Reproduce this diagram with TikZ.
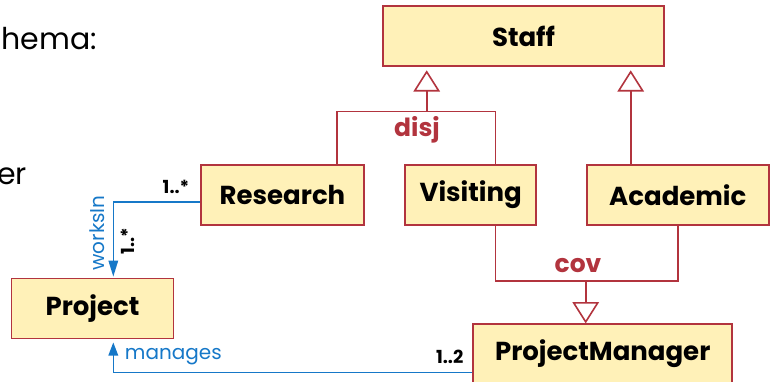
\documentclass[tikz,border=0pt]{standalone}
\usepackage{fontspec}
\setmainfont{Poppins}
\definecolor{boxfill}{RGB}{255,241,184}
\definecolor{boxline}{RGB}{178,52,62}
\definecolor{assocblue}{RGB}{22,120,200}
\tikzset{
  cls/.style={draw=boxline, fill=boxfill, line width=1.6pt, minimum height=60pt, inner sep=0pt, font=\fontsize{26}{30}\selectfont\bfseries},
  genline/.style={draw=boxline, line width=1.6pt},
  genhead/.style={draw=boxline, fill=white, line width=1.6pt, line join=miter},
  assocline/.style={draw=assocblue, line width=1.6pt},
  assochead/.style={fill=assocblue},
  gsetlbl/.style={text=boxline, font=\fontsize{25}{28}\selectfont\bfseries, inner sep=0pt},
  multlbl/.style={text=black, font=\fontsize{18}{20}\selectfont\bfseries, inner sep=0pt},
  rolelbl/.style={text=assocblue, font=\fontsize{20}{22}\selectfont, inner sep=0pt},
  bgtext/.style={text=black, font=\fontsize{30}{34}\selectfont, inner sep=0pt, anchor=base east}
}
\begin{document}
\begin{tikzpicture}[x=1pt, y=-1pt]
\useasboundingbox (0,0) rectangle (771,382);
% classes
\node[cls, minimum width=281pt] (Staff) at (523.5,36) {Staff};
\node[cls, minimum width=163pt] (Research) at (282.5,195) {Research};
\node[cls, minimum width=131pt] (Visiting) at (470.7,195) {Visiting};
\node[cls, minimum width=182pt] (Academic) at (677.8,195) {Academic};
\node[cls, minimum width=162pt] (Project) at (92.5,308.3) {Project};
\node[cls, minimum width=259pt] (PM) at (602.7,354) {ProjectManager};
% background text fragments
\node[bgtext] (t1) at (97,50) {hema:};
\node[bgtext] (t2) at (27,185) {er};
% coordinates
\coordinate (dj) at (426.7,111.7);
\coordinate (dL) at (336.7,111.7);
\coordinate (dR) at (495.3,111.7);
\coordinate (ax) at (630.7,0);
\coordinate (cj) at (585.7,281);
\coordinate (cL) at (495.3,281);
\coordinate (wy) at (0,202.3);
\coordinate (px) at (113.3,0);
\coordinate (my) at (0,372.3);
\coordinate (tipL) at (Staff.south -| dj);
\coordinate (tipR) at (Staff.south -| ax);
\coordinate (tipPM) at (PM.north -| cj);
\coordinate (tipW) at (Project.north -| px);
\coordinate (tipM) at (Project.south -| px);
% disjoint generalization
\draw[genline] (Research.north -| dL) |- (dR) -- (Visiting.north -| dR);
\draw[genline] (dj) -- ([yshift=-24pt]tipL);
\draw[genhead] ([yshift=-5pt]tipL) -- ++(-12,19) -- ++(24,0) -- cycle;
\node[gsetlbl] (disj) at (417,130) {disj};
% Academic
\draw[genline] (Academic.north -| ax) -- ([yshift=-24pt]tipR);
\draw[genhead] ([yshift=-5pt]tipR) -- ++(-12,19) -- ++(24,0) -- cycle;
% covering generalization
\draw[genline] (Visiting.south -| cL) |- (cj) -| (Academic.south);
\draw[genline] (cj) -- ([yshift=20pt]tipPM);
\draw[genhead] ([yshift=1.3pt]tipPM) -- ++(-12,-19) -- ++(24,0) -- cycle;
\node[gsetlbl] (cov) at (578,266) {cov};
% associations
\draw[assocline] (Research.west |- wy) -| ([yshift=12pt]tipW);
\fill[assochead] ([yshift=1pt]tipW) -- ++(-5,-16) -- ++(10,0) -- cycle;
\node[multlbl] (m1) at (176,187) {1..*};
\node[multlbl, rotate=90] (m2) at (128,241) {1..*};
\node[rolelbl, rotate=90] (works) at (96.7,233) {worksIn};
\draw[assocline] (PM.west |- my) -| ([yshift=-12pt]tipM);
\fill[assochead] ([yshift=-3.4pt]tipM) -- ++(-5,13) -- ++(10,0) -- cycle;
\node[rolelbl] (manages) at (173.3,357) {manages};
\node[multlbl] (m3) at (449.7,357) {1..2};
\end{tikzpicture}
\end{document}
